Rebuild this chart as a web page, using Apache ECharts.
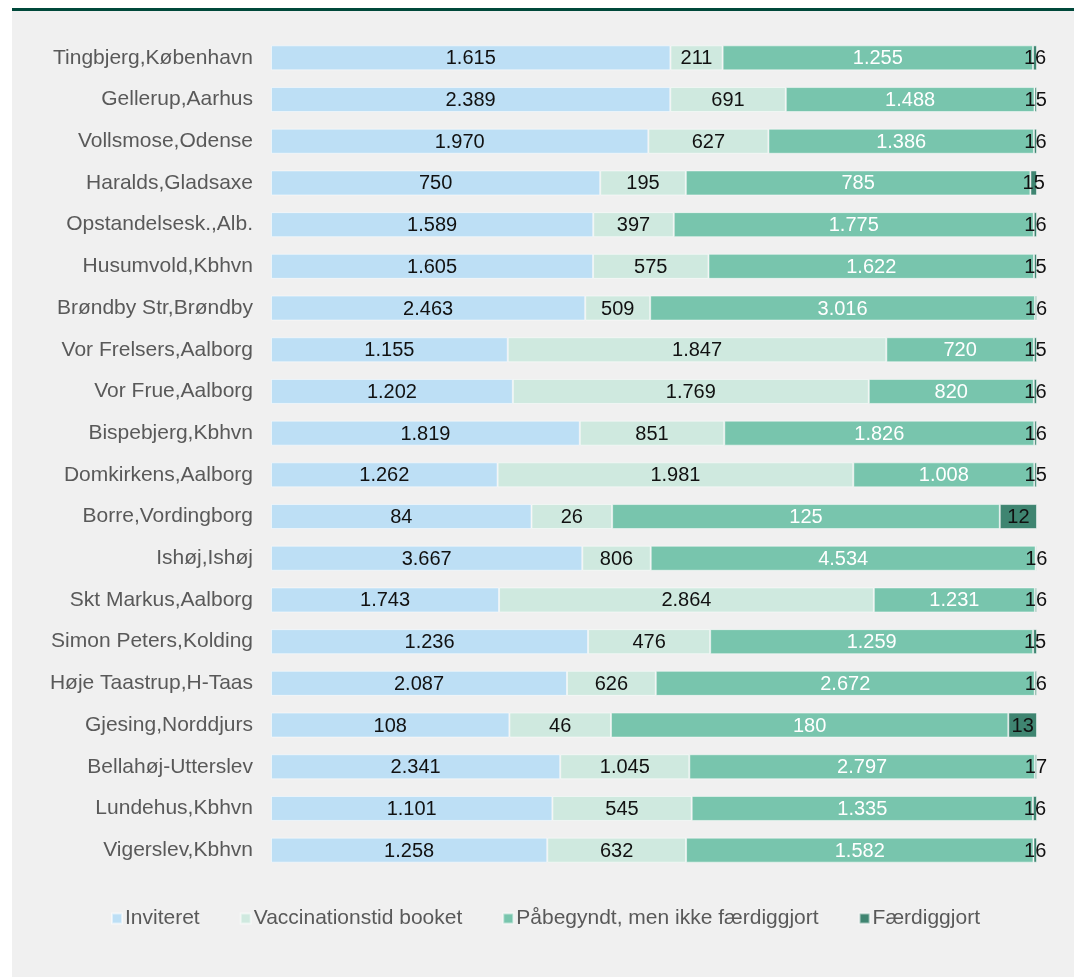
<!DOCTYPE html>
<html>
<head>
<meta charset="utf-8">
<script src="https://cdn.jsdelivr.net/npm/echarts@6/dist/echarts.min.js"></script>
<style>
html,body{margin:0;padding:0;background:#fff;}
#chart{width:1074px;height:977px;}
</style>
</head>
<body>
<div id="chart"></div>
<script>
const categories = ["Tingbjerg,København","Gellerup,Aarhus","Vollsmose,Odense","Haralds,Gladsaxe","Opstandelsesk.,Alb.","Husumvold,Kbhvn","Brøndby Str,Brøndby","Vor Frelsers,Aalborg","Vor Frue,Aalborg","Bispebjerg,Kbhvn","Domkirkens,Aalborg","Borre,Vordingborg","Ishøj,Ishøj","Skt Markus,Aalborg","Simon Peters,Kolding","Høje Taastrup,H-Taas","Gjesing,Norddjurs","Bellahøj-Utterslev","Lundehus,Kbhvn","Vigerslev,Kbhvn"];
const inviteret = [1615,2389,1970,750,1589,1605,2463,1155,1202,1819,1262,84,3667,1743,1236,2087,108,2341,1101,1258];
const booket = [211,691,627,195,397,575,509,1847,1769,851,1981,26,806,2864,476,626,46,1045,545,632];
const paabegyndt = [1255,1488,1386,785,1775,1622,3016,720,820,1826,1008,125,4534,1231,1259,2672,180,2797,1335,1582];
const faerdig = [16,15,16,15,16,15,16,15,16,16,15,12,16,16,15,16,13,17,16,16];
const seriesNames = ["Inviteret","Vaccinationstid booket","Påbegyndt, men ikke færdiggjort","Færdiggjort"];
const colors = ["#bddff5","#cfe9df","#78c5ad","#3f8571"];
const labelColors = ["#111","#111","#fff","#111"];

const raw = [inviteret, booket, paabegyndt, faerdig];
const totals = categories.map((c,i)=>raw.reduce((s,a)=>s+a[i],0));
const fmt = v => String(v).replace(/\B(?=(\d{3})+(?!\d))/g, ".");

const chart = echarts.init(document.getElementById('chart'));
chart.setOption({
  backgroundColor: '#ffffff',
  animation: false,
  graphic: [
    {type:'rect', left:12, top:8, shape:{width:1062, height:969}, style:{fill:'#f0f0f0'}, z:-10},
    {type:'rect', left:12, top:8, shape:{width:1062, height:3}, style:{fill:'#00483a'}, z:-9}
  ],
  grid: {left:271, right:37, top:37, bottom:106, containLabel:false},
  xAxis: {type:'value', min:0, max:100, show:false},
  yAxis: {
    type:'category', data: categories, inverse:true,
    axisLine:{show:false}, axisTick:{show:false},
    axisLabel:{fontFamily:'Liberation Sans, Arial', fontSize:21, color:'#595959', margin:18}
  },
  legend: {
    top: 903, left: 106,
    itemWidth:10, itemHeight:10, itemGap:40,
    icon:'rect',
    textStyle:{fontFamily:'Liberation Sans, Arial', fontSize:21, color:'#595959', padding:[0,0,0,-2]},
    data: seriesNames
  },
  series: raw.map((arr,k)=>({
    name: seriesNames[k], type:'bar', stack:'total', barWidth:25,
    itemStyle:{color:colors[k], borderColor:'rgba(255,255,255,0.5)', borderWidth:1},
    label:{show:true, position:'inside', offset:[0,1], fontFamily:'Liberation Sans, Arial', fontSize:20, color:labelColors[k],
      formatter: p => fmt(arr[p.dataIndex])},
    data: arr.map((v,i)=> v/totals[i]*100)
  }))
});
</script>
</body>
</html>
